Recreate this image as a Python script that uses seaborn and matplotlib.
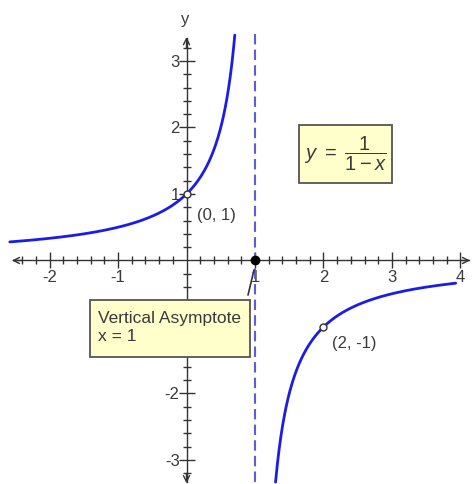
import numpy as np
import pandas as pd
import matplotlib
matplotlib.use("Agg")
import matplotlib.pyplot as plt
from matplotlib.patches import Rectangle
from matplotlib.ticker import FixedLocator
import seaborn as sns

# ---- data -------------------------------------------------------------
left_branch_range = (-2.58, 0.705)     # x extent of the left branch
right_branch_range = (1.30, 3.93)      # x extent of the right branch
asymptote_x = 1
x_tick_values = [-2, -1, 1, 2, 3, 4]
x_tick_labels = ["-2", "-1", "1", "2", "3", "4"]
y_tick_values = [-3, -2, -1, 1, 2, 3]
y_tick_labels = ["-3", "-2", "", "1", "2", "3"]   # -1 is hidden behind the box
open_points_x = [0, 2]
open_points_y = [1, -1]
open_point_labels = ["(0, 1)", "(2, -1)"]
filled_point = (1, 0)
box_lines = ["Vertical Asymptote", "x = 1"]
equation = r"$y\ =\ \dfrac{1}{1-x}$"

def f(x):
    return 1.0 / (1.0 - x)   # y = 1/(1-x), the plotted function

xl = np.linspace(*left_branch_range, 400)
xr = np.linspace(*right_branch_range, 400)
df_left = pd.DataFrame({"x": xl, "y": f(xl)})
df_right = pd.DataFrame({"x": xr, "y": f(xr)})

# ---- style ------------------------------------------------------------
sns.set_style("white")
plt.rcParams["font.family"] = ["Liberation Sans", "DejaVu Sans"]
plt.rcParams["mathtext.fontset"] = "custom"
plt.rcParams["mathtext.rm"] = "Liberation Sans"
plt.rcParams["mathtext.it"] = "Liberation Sans:italic"
plt.rcParams["axes.unicode_minus"] = False

AX = "#333333"
TXT = "#3a3a3a"
CURVE = "#1c1ce6"
DASH = "#5c5cdc"
BOXFILL = "#ffffcc"

fig = plt.figure(figsize=(4.75, 4.84), dpi=100)
ax = fig.add_axes([0, 0, 1, 1])
ax.set_facecolor("white")

ax.set_xlim(-2.723, 4.212)
ax.set_ylim(-3.361, 3.917)

# axes through origin
for s in ["top", "right"]:
    ax.spines[s].set_visible(False)
ax.spines["left"].set_position(("data", 0))
ax.spines["bottom"].set_position(("data", 0))
ax.spines["left"].set_bounds(-3.33, 3.34)
ax.spines["bottom"].set_bounds(-2.53, 4.12)
for s in ["left", "bottom"]:
    ax.spines[s].set_color(AX)
    ax.spines[s].set_linewidth(1.0)

# arrow heads
arr = dict(arrowstyle="->", color=AX, lw=1.0, mutation_scale=11, shrinkA=0, shrinkB=0)
ax.annotate("", xy=(4.14, 0), xytext=(4.0, 0), arrowprops=arr)
ax.annotate("", xy=(-2.55, 0), xytext=(-2.4, 0), arrowprops=arr)
ax.annotate("", xy=(0, 3.36), xytext=(0, 3.2), arrowprops=arr)
ax.annotate("", xy=(0, -3.35), xytext=(0, -3.2), arrowprops=arr)

ax.xaxis.set_major_locator(FixedLocator(x_tick_values))
ax.set_xticklabels(x_tick_labels)
ax.yaxis.set_major_locator(FixedLocator(y_tick_values))
ax.set_yticklabels(y_tick_labels)
ax.xaxis.set_minor_locator(FixedLocator(
    [v for v in np.round(np.arange(-2.4, 4.01, 0.2), 1) if abs(v - round(v)) > 1e-6]))
ax.yaxis.set_minor_locator(FixedLocator(
    [v for v in np.round(np.arange(-3.2, 3.21, 0.2), 1) if abs(v - round(v)) > 1e-6]))
ax.tick_params(which="both", bottom=True, left=True, top=False, right=False)
ax.tick_params(which="major", direction="inout", length=12, width=1, color=AX,
               labelsize=12, labelcolor=TXT)
ax.tick_params(which="minor", direction="inout", length=6, width=1, color=AX)
ax.tick_params(axis="x", which="major", pad=1)
ax.tick_params(axis="y", which="major", pad=-1)
ax.grid(False)

# asymptote
ax.plot([asymptote_x, asymptote_x], [3.4, -3.4], color=DASH, lw=1.5,
        linestyle=(0, (5, 2.5)), zorder=3)

# curve
sns.lineplot(data=df_left, x="x", y="y", ax=ax, color=CURVE, lw=2, zorder=4, sort=False)
sns.lineplot(data=df_right, x="x", y="y", ax=ax, color=CURVE, lw=2, zorder=4, sort=False)
ax.set_xlabel("")
ax.set_ylabel("")

# points
ax.plot(open_points_x, open_points_y, "o", ms=5, mfc="white", mec=AX, mew=1, zorder=6)
ax.plot([filled_point[0]], [filled_point[1]], "o", ms=6, color="black", zorder=6)

ax.text(0.153, 0.684, open_point_labels[0], fontsize=12, color=TXT,
        ha="left", va="center", zorder=7)
ax.text(2.124, -1.245, open_point_labels[1], fontsize=12, color=TXT,
        ha="left", va="center", zorder=7)

# y axis label
ax.text(-0.02, 3.62, "y", fontsize=12, color=TXT, ha="center", va="center")

# leader line from asymptote box to (1, 0)
ax.plot([0.898, 0.985], [-0.52, -0.143], color=AX, lw=1.2, zorder=5)

# equation box
ax.add_patch(Rectangle((1.642, 1.165), 3.0 - 1.642, 2.038 - 1.165,
                       facecolor=BOXFILL, edgecolor="#555555", lw=1.3, zorder=8))
ax.text(2.32, 1.60, equation, fontsize=14.5, color=TXT,
        ha="center", va="center", zorder=9)

# asymptote box
ax.add_patch(Rectangle((-1.409, -1.451), 0.927 + 1.409, 1.451 - 0.594,
                       facecolor=BOXFILL, edgecolor="#555555", lw=1.3, zorder=8))
ax.text(-1.292, -0.940, box_lines[0], fontsize=12.5, color=TXT,
        ha="left", va="baseline", zorder=9)
ax.text(-1.292, -1.211, box_lines[1], fontsize=12.5, color=TXT,
        ha="left", va="baseline", zorder=9)

fig.savefig("out.png", dpi=100)
